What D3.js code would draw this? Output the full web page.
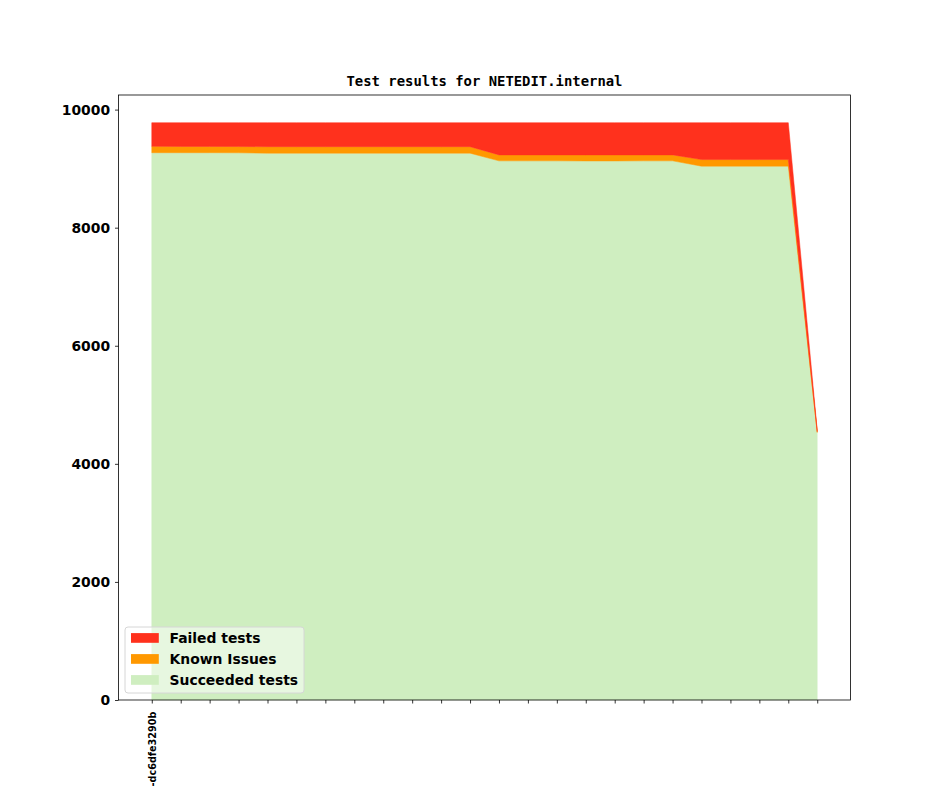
<!DOCTYPE html>
<html>
<head>
<meta charset="utf-8">
<script src="https://cdn.jsdelivr.net/npm/d3@7"></script>
<style>
  html, body { margin: 0; padding: 0; background: #fff; }
  svg { display: block; }
</style>
</head>
<body>
<svg id="chart" width="944" height="787"></svg>
<script>
// ---- data ----
const commits = ["-dc6dfe3290b", "", "", "", "", "", "", "", "", "", "", "",
                 "", "", "", "", "", "", "", "", "", "", "", ""];
const succeeded = [9270, 9270, 9270, 9268, 9262, 9262, 9262, 9262, 9262, 9262, 9262, 9262,
                   9132, 9132, 9132, 9130, 9130, 9132, 9132,
                   9042, 9042, 9042, 9042,
                   4530];
const knownIssues = [108, 106, 106, 106, 110, 110, 110, 110, 110, 110, 110, 110,
                     101, 101, 101, 103, 103, 101, 101,
                     112, 112, 112, 112,
                     15];
const failed = [400, 402, 402, 404, 406, 406, 406, 406, 406, 406, 406, 406,
                545, 545, 545, 545, 545, 545, 545,
                624, 624, 624, 624,
                25];
const yTicks = [0, 2000, 4000, 6000, 8000, 10000];
const seriesNames = ["Succeeded tests", "Known Issues", "Failed tests"];
const seriesColors = ["#cfeec0", "#ff9800", "#ff311d"];
const title = "Test results for NETEDIT.internal";

// ---- layout ----
const W = 944, H = 787;
const mLeft = 118.5, mRight = 850.5, mTop = 95, mBottom = 700;

const svg = d3.select("#chart");

const rows = commits.map((c, i) => ({
  i: i,
  s: succeeded[i],
  k: knownIssues[i],
  f: failed[i]
}));
const stack = d3.stack().keys(["s", "k", "f"]).order(d3.stackOrderNone).offset(d3.stackOffsetNone);
const stacked = stack(rows);

const n = commits.length;
const xPad = (n - 1) * 0.05;
const x = d3.scaleLinear().domain([-xPad, n - 1 + xPad]).range([mLeft, mRight]);
const maxTotal = d3.max(rows, r => r.s + r.k + r.f);
const y = d3.scaleLinear().domain([0, maxTotal * 1.048]).range([mBottom, mTop]);

const area = d3.area()
  .x(d => x(d.data.i))
  .y0(d => y(d[0]))
  .y1(d => y(d[1]));

const g = svg.append("g");
g.selectAll("path.area")
  .data(stacked)
  .join("path")
  .attr("class", "area")
  .attr("d", area)
  .attr("fill", (d, i) => seriesColors[i])
  .attr("stroke", (d, i) => seriesColors[i])
  .attr("stroke-width", 0.5);

// axes
const yAxis = d3.axisLeft(y).tickValues(yTicks).tickSize(3.5).tickPadding(4.9).tickFormat(d3.format("d"));
const yg = svg.append("g").attr("transform", `translate(${mLeft},0)`).call(yAxis);
yg.select(".domain").remove();
yg.selectAll(".tick line").attr("stroke", "#000").attr("stroke-width", 0.8);
yg.selectAll(".tick text")
  .attr("fill", "#000")
  .style("font-family", "'DejaVu Sans', sans-serif")
  .style("font-weight", "bold")
  .style("font-size", "13.9px");

const xAxis = d3.axisBottom(x).tickValues(d3.range(n)).tickSize(3.5).tickPadding(3.5).tickFormat(i => commits[i]);
const xg = svg.append("g").attr("transform", `translate(0,${mBottom})`).call(xAxis);
xg.select(".domain").remove();
xg.selectAll(".tick line").attr("stroke", "#000").attr("stroke-width", 0.8);
xg.selectAll(".tick text")
  .attr("fill", "#000")
  .attr("transform", "rotate(-90)")
  .attr("text-anchor", "end")
  .attr("x", -11.5)
  .attr("y", 0)
  .attr("dy", "0.35em")
  .style("font-family", "'DejaVu Sans', sans-serif")
  .style("font-weight", "bold")
  .style("font-size", "9.7px");

// frame
svg.append("rect")
  .attr("x", mLeft).attr("y", mTop)
  .attr("width", mRight - mLeft).attr("height", mBottom - mTop)
  .attr("fill", "none").attr("stroke", "#000").attr("stroke-width", 0.8);

// title
svg.append("text")
  .attr("x", (mLeft + mRight) / 2)
  .attr("y", mTop - 9)
  .attr("text-anchor", "middle")
  .style("font-family", "'DejaVu Sans Mono', monospace")
  .style("font-weight", "bold")
  .style("font-size", "13.9px")
  .text(title);

// legend
const legendOrder = [2, 1, 0];
const lg = svg.append("g").attr("transform", `translate(125,627)`);
lg.append("rect")
  .attr("x", 0).attr("y", 0).attr("width", 179).attr("height", 66)
  .attr("rx", 3).attr("ry", 3)
  .attr("fill", "rgba(255,255,255,0.5)")
  .attr("stroke", "#d6d6d6").attr("stroke-width", 1);
legendOrder.forEach((si, r) => {
  const cy = 11 + r * 21;
  lg.append("rect")
    .attr("x", 6).attr("y", cy - 4.9).attr("width", 27.8).attr("height", 9.7)
    .attr("fill", seriesColors[si]);
  lg.append("text")
    .attr("x", 44.5).attr("y", cy).attr("dy", "0.36em")
    .style("font-family", "'DejaVu Sans', sans-serif")
    .style("font-weight", "bold")
    .style("font-size", "13.9px")
    .text(seriesNames[si]);
});
</script>
</body>
</html>
